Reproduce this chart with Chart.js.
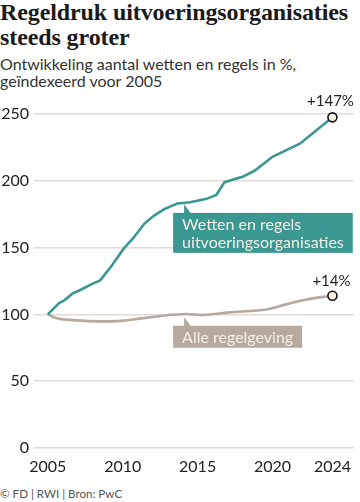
<!DOCTYPE html>
<html>
<head>
<meta charset="utf-8">
<script src="https://cdn.jsdelivr.net/npm/chart.js@4.4.1/dist/chart.umd.min.js"></script>
<style>
  html, body { margin: 0; padding: 0; background: #fff; }
  body { width: 360px; height: 502px; position: relative; overflow: hidden; font-family: Lato, sans-serif; }
  h1 { position: absolute; left: 0; top: 0; margin: 0; font: bold 24px/25px "Liberation Serif", serif; color: #1a1a1a; letter-spacing: -0.1px; }
  .sub { position: absolute; left: 0; top: 55px; margin: 0; font: 16px/17px Lato, sans-serif; color: #333; }
  .foot { position: absolute; left: 0; top: 487px; font: 11.6px Lato, sans-serif; color: #555; }
  .wrap { position: absolute; left: 0; top: 90px; width: 360px; height: 395px; }
</style>
</head>
<body>
<h1>Regeldruk uitvoeringsorganisaties<br>steeds groter</h1>
<p class="sub">Ontwikkeling aantal wetten en regels in %,<br>geïndexeerd voor 2005</p>
<div class="wrap"><canvas id="chart"></canvas></div>
<div class="foot">© FD | RWI | Bron: PwC</div>
<script>
// wetten en regels uitvoeringsorganisaties (index 2005 = 100)
const wettenJaar = [2005, 2005.75, 2006.1, 2006.65, 2007.3, 2008, 2008.5, 2009.3, 2010.05, 2010.7, 2011.45, 2012.1, 2012.8, 2013.65, 2014.5, 2015.6, 2016.25, 2016.8, 2018, 2018.8, 2020, 2021.85, 2024];
const wettenWaarde = [100, 108.5, 110.5, 115.5, 119, 123, 125.5, 137, 149, 157, 168, 174, 179, 183, 184, 186.5, 189.5, 199, 203, 207.5, 218, 228, 247.5];
// alle regelgeving
const alleJaar = [2005, 2005.5, 2006, 2007.75, 2009.7, 2011.25, 2012.8, 2014.2, 2015.4, 2017.1, 2019.6, 2020.9, 2022.2, 2024];
const alleWaarde = [100, 97.5, 96.3, 95, 95, 97, 99.2, 100.3, 99.6, 101.5, 103.7, 107.5, 111, 114];

const jaarTicks = [2005, 2010, 2015, 2020, 2024];
const labels = ['Wetten en regels', 'uitvoeringsorganisaties'];
const labelAlle = 'Alle regelgeving';

const teal = '#3a9791';
const bruin = '#b6a99f';
const tekstLicht = '#f6efe6';

const toPoints = (xs, ys) => xs.map((x, i) => ({ x: x, y: ys[i] }));
const endOnly = arr => ctx => ctx.dataIndex === arr.length - 1 ? 4.5 : 0;

const annotations = {
  id: 'annotations',
  afterDatasetsDraw(chart) {
    const { ctx, scales: { x, y } } = chart;
    ctx.save();
    ctx.font = '16px Lato, sans-serif';

    // label box helper
    const box = (tipX, tipY, lines, color, top) => {
      const pad = 9;
      const w = Math.max(...lines.map(l => ctx.measureText(l).width)) + pad * 2;
      const lh = 18;
      const h = lines.length * lh + 4;
      const left = tipX - 11;
      ctx.fillStyle = color;
      ctx.beginPath();
      ctx.moveTo(tipX, tipY);
      ctx.lineTo(tipX + 7, top + 1);
      ctx.lineTo(tipX, top + 1);
      ctx.closePath();
      ctx.fill();
      ctx.fillRect(left, top, w, h);
      ctx.fillStyle = tekstLicht;
      ctx.textBaseline = 'middle';
      ctx.textAlign = 'left';
      lines.forEach((l, i) => ctx.fillText(l, left + pad, top + 2 + lh * i + lh / 2 + 1));
    };

    const tx = x.getPixelForValue(2014.1);
    box(tx, y.getPixelForValue(184) + 2, labels, teal, y.getPixelForValue(176));
    box(tx, y.getPixelForValue(100.3) + 3, [labelAlle], bruin, y.getPixelForValue(91.5));

    // eindwaarden
    ctx.font = '15px Lato, sans-serif';
    ctx.fillStyle = '#222';
    ctx.textAlign = 'center';
    ctx.textBaseline = 'alphabetic';
    const lx = x.getPixelForValue(2024);
    ctx.fillText('+147%', lx - 2, y.getPixelForValue(247.5) - 11);
    ctx.fillText('+14%', lx - 1, y.getPixelForValue(114) - 10);
    ctx.restore();
  }
};

new Chart(document.getElementById('chart'), {
  type: 'line',
  data: {
    datasets: [
      {
        label: 'Wetten en regels uitvoeringsorganisaties',
        data: toPoints(wettenJaar, wettenWaarde),
        borderColor: teal,
        borderWidth: 2.6,
        tension: 0,
        pointRadius: endOnly(wettenJaar),
        pointBackgroundColor: '#fdf5e6',
        pointBorderColor: '#111',
        pointBorderWidth: 1.6,
        clip: false
      },
      {
        label: 'Alle regelgeving',
        data: toPoints(alleJaar, alleWaarde),
        borderColor: bruin,
        borderWidth: 2.6,
        tension: 0.3,
        pointRadius: endOnly(alleJaar),
        pointBackgroundColor: '#fdf5e6',
        pointBorderColor: '#111',
        pointBorderWidth: 1.6,
        clip: false
      }
    ]
  },
  options: {
    responsive: true,
    maintainAspectRatio: false,
    animation: false,
    layout: { autoPadding: false, padding: { top: 24, right: 0, bottom: 0, left: 0 } },
    plugins: { legend: { display: false }, tooltip: { enabled: false } },
    scales: {
      x: {
        type: 'linear',
        min: 2004.08,
        max: 2025.44,
        afterBuildTicks: s => { s.ticks = jaarTicks.map(v => ({ value: v })); },
        afterFit: s => { s.height = 37; },
        grid: { display: false, drawTicks: false },
        border: { display: false },
        ticks: { padding: 9, maxRotation: 0, color: '#222', font: { family: 'Lato', size: 16 }, callback: v => String(v) }
      },
      y: {
        min: 0,
        max: 250,
        afterFit: s => { s.width = 34; },
        grid: { color: '#e4dad5', lineWidth: 1.5, drawTicks: false },
        border: { display: false },
        ticks: { stepSize: 50, padding: 5, color: '#222', font: { family: 'Lato', size: 16 }, callback: v => String(v) }
      }
    }
  },
  plugins: [annotations]
});
</script>
</body>
</html>
